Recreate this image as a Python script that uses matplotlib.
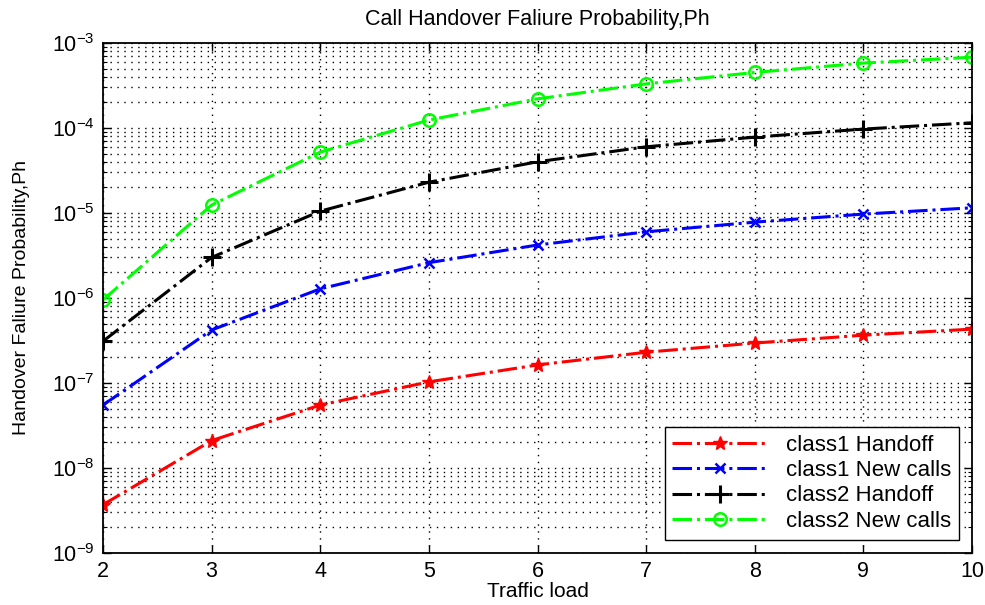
import matplotlib
matplotlib.use("Agg")
import matplotlib.pyplot as plt
from matplotlib.ticker import LogLocator, FixedLocator, NullFormatter

plt.rcParams['font.family'] = ['Liberation Sans', 'DejaVu Sans']
plt.rcParams['mathtext.fontset'] = 'custom'
plt.rcParams['mathtext.rm'] = 'Liberation Sans'
plt.rcParams['mathtext.it'] = 'Liberation Sans'
plt.rcParams['mathtext.default'] = 'regular'

# Data
load = [2, 3, 4, 5, 6, 7, 8, 9, 10]
c1_handoff = [3.7e-9, 2.1e-8, 5.5e-8, 1.03e-7, 1.63e-7, 2.3e-7, 2.95e-7, 3.65e-7, 4.3e-7]
c1_new = [5.5e-8, 4.2e-7, 1.28e-6, 2.6e-6, 4.2e-6, 6.0e-6, 7.8e-6, 9.7e-6, 1.15e-5]
c2_handoff = [3.1e-7, 3.0e-6, 1.05e-5, 2.3e-5, 4.0e-5, 6.0e-5, 7.8e-5, 9.7e-5, 1.15e-4]
c2_new = [9.5e-7, 1.24e-5, 5.2e-5, 1.24e-4, 2.2e-4, 3.3e-4, 4.5e-4, 5.8e-4, 6.8e-4]
labels = ['class1 Handoff', 'class1 New calls', 'class2 Handoff', 'class2 New calls']
decades = [-9, -8, -7, -6, -5, -4, -3]

fig = plt.figure(figsize=(9.85, 6.05), dpi=100)
ax = fig.add_axes([0.1046, 0.086, 0.8822, 0.843])

ax.semilogy(load, c1_handoff, '-.', color='red', marker='*', ms=10, lw=2.2, label=labels[0])
ax.semilogy(load, c1_new, '-.', color='blue', marker='x', ms=7, mew=1.8, lw=2.2, label=labels[1])
ax.semilogy(load, c2_handoff, '-.', color='black', marker='+', ms=13, mew=2.2, lw=2.2, label=labels[2])
ax.semilogy(load, c2_new, '-.', color='#00ff00', marker='o', ms=9, mfc='none', mew=1.8, lw=2.2, label=labels[3])

ax.set_xlim(2, 10)
ax.set_ylim(1e-9, 1e-3)
ax.set_xticks(load)
ax.yaxis.set_major_locator(FixedLocator([10.0 ** d for d in decades]))
ax.set_yticklabels(['$10^{%d}$' % d for d in decades])
ax.yaxis.set_minor_locator(LogLocator(base=10, subs=range(2, 10), numticks=20))
ax.yaxis.set_minor_formatter(NullFormatter())

ax.tick_params(which='both', direction='in', top=True, right=True, labelsize=15.5)
ax.tick_params(which='major', length=6, width=1, pad=6)
ax.tick_params(which='minor', length=3, width=0.8)
ax.grid(True, which='major', linestyle=(0, (1, 4)), color='black', lw=1)
ax.grid(True, which='minor', axis='y', linestyle=(0, (1, 4)), color='black', lw=1)
for s in ax.spines.values():
    s.set_linewidth(1.3)

ax.set_title('Call Handover Faliure Probability,Ph', fontsize=15.5, pad=13)
ax.set_xlabel('Traffic load', fontsize=15, labelpad=0)
ax.set_ylabel('Handover Faliure Probability,Ph', fontsize=14, labelpad=16)

leg = ax.legend(loc='lower right', fontsize=16, fancybox=False, framealpha=1,
                edgecolor='black', borderaxespad=0.6, handlelength=4.3,
                labelspacing=0.2, borderpad=0.35)
leg.get_frame().set_linewidth(1)

fig.savefig('out.png', dpi=100)
